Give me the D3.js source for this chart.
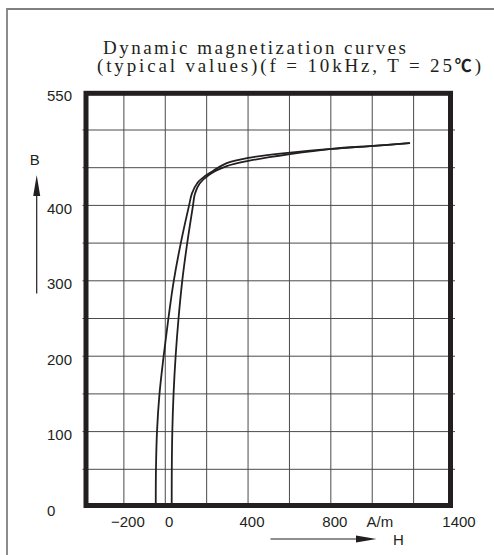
<!DOCTYPE html>
<html>
<head>
<meta charset="utf-8">
<script src="https://cdn.jsdelivr.net/npm/d3@7"></script>
<style>
  html, body { margin: 0; padding: 0; background: #fff; }
  svg { display: block; }
</style>
</head>
<body>
<svg id="chart" width="494" height="555"></svg>
<script>
// Dynamic magnetization curve, two branches of the loop (H in A/m, B in mT)
const risingH  = [31, 31.5, 34, 40, 50, 64, 82, 106, 134, 143, 166, 214, 297, 401, 603, 804, 1005, 1179];
const risingB  = [0, 50, 100, 150, 200, 250, 300, 350, 400, 415, 429, 441, 452, 459, 468, 475, 479, 482.5];
const fallingH = [-46, -45, -40, -28, -8, 15, 41, 75, 115, 129, 156, 192, 232, 297, 401, 603, 804, 1005, 1179];
const fallingB = [0, 50, 100, 150, 200, 250, 300, 350, 400, 416, 430, 439, 446, 456, 463, 470, 475, 479, 482.5];

const xTicks = [-200, 0, 400, 800, 1400];
const xTickLabels = ["\u2212200", "0", "400", "800", "1400"];
const yTicks = [0, 100, 200, 300, 400, 550];
const xGrid = [-200, 0, 200, 400, 600, 800, 1000, 1200];
const yGrid = [50, 100, 150, 200, 250, 300, 350, 400, 450, 500];

const titleLine1 = "Dynamic magnetization curves";
const titleLine2 = "(typical values)(f = 10kHz, T = 25";
const degreeSign = "\u2103)";

const svg = d3.select("#chart");
const ink = "#231f20";

const x = d3.scaleLinear().domain([-400, 1400]).range([82.5, 455.0]);
const y = d3.scaleLinear().domain([0, 550]).range([507, 92.3]);

// outer panel edge
svg.append("path")
  .attr("d", "M7,560 L7,9 L500,9")
  .attr("fill", "none").attr("stroke", "#808080").attr("stroke-width", 1.8);

// title
const serif = "'Liberation Serif', 'DejaVu Serif', serif";
svg.append("text")
  .attr("x", 103).attr("y", 54)
  .attr("font-family", serif).attr("font-size", 19).attr("fill", ink)
  .attr("textLength", 303).attr("lengthAdjust", "spacing")
  .text(titleLine1);
const t2 = svg.append("text")
  .attr("x", 97).attr("y", 72)
  .attr("font-family", serif).attr("font-size", 19).attr("fill", ink)
  .attr("textLength", 384).attr("lengthAdjust", "spacing");
t2.append("tspan").text(titleLine2);
t2.append("tspan").attr("font-family", "'Noto Sans CJK SC', 'Liberation Sans', sans-serif")
  .attr("font-weight", "bold").attr("font-size", 17).text(degreeSign.charAt(0));
t2.append("tspan").text(degreeSign.charAt(1));

// grid
const grid = svg.append("g").attr("stroke", "#4a4a4a").attr("stroke-width", 1);
grid.selectAll("line.v").data(xGrid).join("line").attr("class", "v")
  .attr("x1", d => x(d)).attr("x2", d => x(d))
  .attr("y1", y(550)).attr("y2", y(0));
grid.selectAll("line.h").data(yGrid).join("line").attr("class", "h")
  .attr("x1", x(-400)).attr("x2", x(1400))
  .attr("y1", d => y(d)).attr("y2", d => y(d));

// curves
const line = d3.line()
  .x(d => x(d[0])).y(d => y(d[1]))
  .curve(d3.curveCatmullRom.alpha(0.5));
const rising = risingH.map((h, i) => [h, risingB[i]]);
const falling = fallingH.map((h, i) => [h, fallingB[i]]);
svg.selectAll("path.branch").data([rising, falling]).join("path")
  .attr("class", "branch")
  .attr("d", line)
  .attr("fill", "none").attr("stroke", ink).attr("stroke-width", 1.8)
  .attr("stroke-linejoin", "round").attr("stroke-linecap", "round");

// heavy plot frame
svg.append("rect")
  .attr("x", x(-400) + 3.5).attr("y", y(550) + 1)
  .attr("width", (x(1400) - 4.5) - (x(-400) + 3.5))
  .attr("height", (y(0) - 1.5) - (y(550) + 1))
  .attr("fill", "none").attr("stroke", ink).attr("stroke-width", 5);

const sans = "'Liberation Sans', Arial, sans-serif";

// y tick labels
svg.selectAll("text.ytick").data(yTicks).join("text").attr("class", "ytick")
  .attr("x", 47).attr("y", d => y(d) + 8.5)
  .attr("font-family", sans).attr("font-size", 15).attr("fill", ink)
  .text(d => d);

// x tick labels
svg.selectAll("text.xtick").data(xTicks).join("text").attr("class", "xtick")
  .attr("x", d => x(d) + 4).attr("y", 526.5)
  .attr("text-anchor", "middle")
  .attr("font-family", sans).attr("font-size", 15).attr("fill", ink)
  .text((d, i) => xTickLabels[i]);

svg.append("text")
  .attr("x", x(1037)).attr("y", 526.5).attr("text-anchor", "middle")
  .attr("font-family", sans).attr("font-size", 15).attr("fill", ink)
  .text("A/m");

// axis direction arrows
svg.append("line").attr("x1", 270.5).attr("x2", 362).attr("y1", 539).attr("y2", 539)
  .attr("stroke", ink).attr("stroke-width", 1.2);
svg.append("path").attr("d", "M376.5,539 L356,535.5 L356,542.5 Z").attr("fill", ink);
svg.append("text").attr("x", 393).attr("y", 544.5)
  .attr("font-family", sans).attr("font-size", 15).attr("fill", ink).text("H");

svg.append("line").attr("x1", 36.7).attr("x2", 36.7).attr("y1", 293.5).attr("y2", 190)
  .attr("stroke", ink).attr("stroke-width", 1.2);
svg.append("path").attr("d", "M36.7,175 L33.2,196 L40.2,196 Z").attr("fill", ink);
svg.append("text").attr("x", 34.7).attr("y", 165).attr("text-anchor", "middle")
  .attr("font-family", sans).attr("font-size", 15).attr("fill", ink).text("B");
</script>
</body>
</html>
